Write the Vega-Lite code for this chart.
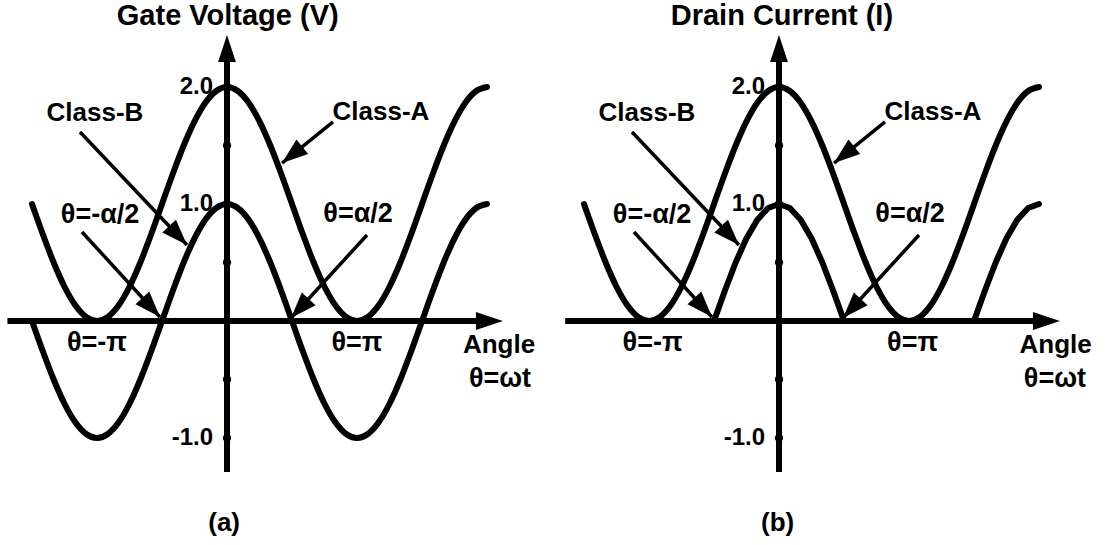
{
  "$schema": "https://vega.github.io/schema/vega-lite/v6.json",
  "background": "white",
  "padding": 0,
  "spacing": 2,
  "bounds": "flush",
  "config": {
    "view": {"stroke": null},
    "text": {"font": "Liberation Sans", "fontWeight": "bold", "color": "black"}
  },
  "datasets": {
    "wave": [
      {"deg": -270, "a": 1, "b": 0, "bi": 0},
      {"deg": -255, "a": 0.7412, "b": -0.2588, "bi": 0},
      {"deg": -240, "a": 0.5, "b": -0.5, "bi": 0},
      {"deg": -225, "a": 0.2929, "b": -0.7071, "bi": 0},
      {"deg": -210, "a": 0.134, "b": -0.866, "bi": 0},
      {"deg": -195, "a": 0.0341, "b": -0.9659, "bi": 0},
      {"deg": -180, "a": 0, "b": -1, "bi": 0},
      {"deg": -165, "a": 0.0341, "b": -0.9659, "bi": 0},
      {"deg": -150, "a": 0.134, "b": -0.866, "bi": 0},
      {"deg": -135, "a": 0.2929, "b": -0.7071, "bi": 0},
      {"deg": -120, "a": 0.5, "b": -0.5, "bi": 0},
      {"deg": -105, "a": 0.7412, "b": -0.2588, "bi": 0},
      {"deg": -90, "a": 1, "b": 0, "bi": 0},
      {"deg": -75, "a": 1.2588, "b": 0.2588, "bi": 0.2588},
      {"deg": -60, "a": 1.5, "b": 0.5, "bi": 0.5},
      {"deg": -45, "a": 1.7071, "b": 0.7071, "bi": 0.7071},
      {"deg": -30, "a": 1.866, "b": 0.866, "bi": 0.866},
      {"deg": -15, "a": 1.9659, "b": 0.9659, "bi": 0.9659},
      {"deg": 0, "a": 2, "b": 1, "bi": 1},
      {"deg": 15, "a": 1.9659, "b": 0.9659, "bi": 0.9659},
      {"deg": 30, "a": 1.866, "b": 0.866, "bi": 0.866},
      {"deg": 45, "a": 1.7071, "b": 0.7071, "bi": 0.7071},
      {"deg": 60, "a": 1.5, "b": 0.5, "bi": 0.5},
      {"deg": 75, "a": 1.2588, "b": 0.2588, "bi": 0.2588},
      {"deg": 90, "a": 1, "b": 0, "bi": 0},
      {"deg": 105, "a": 0.7412, "b": -0.2588, "bi": 0},
      {"deg": 120, "a": 0.5, "b": -0.5, "bi": 0},
      {"deg": 135, "a": 0.2929, "b": -0.7071, "bi": 0},
      {"deg": 150, "a": 0.134, "b": -0.866, "bi": 0},
      {"deg": 165, "a": 0.0341, "b": -0.9659, "bi": 0},
      {"deg": 180, "a": 0, "b": -1, "bi": 0},
      {"deg": 195, "a": 0.0341, "b": -0.9659, "bi": 0},
      {"deg": 210, "a": 0.134, "b": -0.866, "bi": 0},
      {"deg": 225, "a": 0.2929, "b": -0.7071, "bi": 0},
      {"deg": 240, "a": 0.5, "b": -0.5, "bi": 0},
      {"deg": 255, "a": 0.7412, "b": -0.2588, "bi": 0},
      {"deg": 270, "a": 1, "b": 0, "bi": 0},
      {"deg": 285, "a": 1.2588, "b": 0.2588, "bi": 0.2588},
      {"deg": 300, "a": 1.5, "b": 0.5, "bi": 0.5},
      {"deg": 315, "a": 1.7071, "b": 0.7071, "bi": 0.7071},
      {"deg": 330, "a": 1.866, "b": 0.866, "bi": 0.866},
      {"deg": 345, "a": 1.9659, "b": 0.9659, "bi": 0.9659},
      {"deg": 360, "a": 2, "b": 1, "bi": 1}
    ],
    "axes": [
      {"panel": "a", "x": -304, "y": 0, "x2": 368, "y2": 0, "tx": 382, "ty": 0, "heading": 90},
      {"panel": "a", "x": 0, "y": -1.29, "x2": 0, "y2": 2.3, "tx": 0, "ty": 2.444, "heading": 0},
      {"panel": "b", "x": -296, "y": 0, "x2": 375, "y2": 0, "tx": 389, "ty": 0, "heading": 90},
      {"panel": "b", "x": 0, "y": -1.29, "x2": 0, "y2": 2.3, "tx": 0, "ty": 2.444, "heading": 0}
    ],
    "ticks": [
      {"val": -1, "label": "-1.0"},
      {"val": -0.5, "label": ""},
      {"val": 0.5, "label": ""},
      {"val": 1, "label": "1.0"},
      {"val": 1.5, "label": ""},
      {"val": 2, "label": "2.0"}
    ],
    "pointers": [
      {"note": "Class-B", "x": -203.5, "y": 1.615, "tx": -55.4, "ty": 0.65, "heading": 136.6},
      {"note": "Class-A", "x": 146.8, "y": 1.701, "tx": 76.2, "ty": 1.35, "heading": 231.2},
      {"note": "θ=-α/2", "x": -200.8, "y": 0.761, "tx": -92.8, "ty": 0.034, "heading": 137.5},
      {"note": "θ=α/2", "x": 193.8, "y": 0.735, "tx": 88.6, "ty": 0.026, "heading": 222.9}
    ],
    "notes": [
      {"panel": "a", "kind": "title", "text": "Gate Voltage (V)", "x": 1, "y": 2.607},
      {"panel": "a", "kind": "label", "text": "Class-B", "x": -182.8, "y": 1.778},
      {"panel": "a", "kind": "label", "text": "Class-A", "x": 213.2, "y": 1.786},
      {"panel": "a", "kind": "theta", "text": "θ=-α/2", "x": -175.8, "y": 0.906},
      {"panel": "a", "kind": "theta", "text": "θ=α/2", "x": 181.4, "y": 0.915},
      {"panel": "a", "kind": "theta", "text": "θ=-π", "x": -180, "y": -0.188},
      {"panel": "a", "kind": "theta", "text": "θ=π", "x": 180, "y": -0.188},
      {"panel": "a", "kind": "label", "text": "Angle", "x": 376.6, "y": -0.205},
      {"panel": "a", "kind": "theta", "text": "θ=ωt", "x": 378, "y": -0.496},
      {"panel": "a", "kind": "label", "text": "(a)", "x": -4, "y": -1.726},
      {"panel": "b", "kind": "title", "text": "Drain Current (I)", "x": 4, "y": 2.607},
      {"panel": "b", "kind": "label", "text": "Class-B", "x": -182.8, "y": 1.778},
      {"panel": "b", "kind": "label", "text": "Class-A", "x": 213.2, "y": 1.786},
      {"panel": "b", "kind": "theta", "text": "θ=-α/2", "x": -175.8, "y": 0.906},
      {"panel": "b", "kind": "theta", "text": "θ=α/2", "x": 181.4, "y": 0.915},
      {"panel": "b", "kind": "theta", "text": "θ=-π", "x": -175, "y": -0.188},
      {"panel": "b", "kind": "theta", "text": "θ=π", "x": 185, "y": -0.188},
      {"panel": "b", "kind": "label", "text": "Angle", "x": 383, "y": -0.205},
      {"panel": "b", "kind": "theta", "text": "θ=ωt", "x": 382, "y": -0.496},
      {"panel": "b", "kind": "label", "text": "(b)", "x": -2, "y": -1.726}
    ]
  },
  "hconcat": [
    {
      "width": 550,
      "height": 545,
      "layer": [
        {
          "data": {"name": "axes"},
          "transform": [{"filter": "datum.panel == 'a'"}],
          "mark": {"type": "rule", "color": "black", "strokeWidth": 6},
          "encoding": {
            "x": {"field": "x", "type": "quantitative", "scale": {"domain": [-314.3, 447.2], "nice": false, "zero": false}, "axis": null},
            "y": {"field": "y", "type": "quantitative", "scale": {"domain": [-1.9145, 2.7436], "nice": false, "zero": false}, "axis": null},
            "x2": {"field": "x2"},
            "y2": {"field": "y2"}
          }
        },
        {
          "data": {"name": "axes"},
          "transform": [{"filter": "datum.panel == 'a'"}],
          "mark": {"type": "point", "shape": "M0,0L-0.66,2L0.66,2Z", "filled": true, "size": 729, "color": "black", "opacity": 1, "strokeWidth": 0},
          "encoding": {
            "x": {"field": "tx", "type": "quantitative", "scale": {"domain": [-314.3, 447.2], "nice": false, "zero": false}, "axis": null},
            "y": {"field": "ty", "type": "quantitative", "scale": {"domain": [-1.9145, 2.7436], "nice": false, "zero": false}, "axis": null},
            "angle": {"field": "heading", "type": "quantitative", "scale": null}
          }
        },
        {
          "data": {"name": "ticks"},
          "mark": {"type": "point", "shape": "circle", "filled": true, "size": 70, "color": "black", "opacity": 1},
          "encoding": {
            "x": {"datum": 0, "type": "quantitative", "scale": {"domain": [-314.3, 447.2], "nice": false, "zero": false}, "axis": null},
            "y": {"field": "val", "type": "quantitative", "scale": {"domain": [-1.9145, 2.7436], "nice": false, "zero": false}, "axis": null}
          }
        },
        {
          "data": {"name": "ticks"},
          "mark": {"type": "text", "align": "right", "baseline": "middle", "dx": -14, "fontSize": 24},
          "encoding": {
            "x": {"datum": 0, "type": "quantitative", "scale": {"domain": [-314.3, 447.2], "nice": false, "zero": false}, "axis": null},
            "y": {"field": "val", "type": "quantitative", "scale": {"domain": [-1.9145, 2.7436], "nice": false, "zero": false}, "axis": null},
            "text": {"field": "label", "type": "nominal"}
          }
        },
        {
          "data": {"name": "wave"},
          "mark": {"type": "line", "color": "black", "strokeWidth": 6, "interpolate": "monotone", "strokeCap": "round", "strokeJoin": "round"},
          "encoding": {
            "x": {"field": "deg", "type": "quantitative", "scale": {"domain": [-314.3, 447.2], "nice": false, "zero": false}, "axis": null},
            "y": {"field": "a", "type": "quantitative", "scale": {"domain": [-1.9145, 2.7436], "nice": false, "zero": false}, "axis": null}
          }
        },
        {
          "data": {"name": "wave"},
          "mark": {"type": "line", "color": "black", "strokeWidth": 6, "interpolate": "monotone", "strokeCap": "round", "strokeJoin": "round"},
          "encoding": {
            "x": {"field": "deg", "type": "quantitative", "scale": {"domain": [-314.3, 447.2], "nice": false, "zero": false}, "axis": null},
            "y": {"field": "b", "type": "quantitative", "scale": {"domain": [-1.9145, 2.7436], "nice": false, "zero": false}, "axis": null}
          }
        },
        {
          "data": {"name": "pointers"},
          "mark": {"type": "rule", "color": "black", "strokeWidth": 3.5},
          "encoding": {
            "x": {"field": "x", "type": "quantitative", "scale": {"domain": [-314.3, 447.2], "nice": false, "zero": false}, "axis": null},
            "y": {"field": "y", "type": "quantitative", "scale": {"domain": [-1.9145, 2.7436], "nice": false, "zero": false}, "axis": null},
            "x2": {"field": "tx"},
            "y2": {"field": "ty"}
          }
        },
        {
          "data": {"name": "pointers"},
          "mark": {"type": "point", "shape": "M0,0L-0.72,2L0.72,2Z", "filled": true, "size": 676, "color": "black", "opacity": 1, "strokeWidth": 0},
          "encoding": {
            "x": {"field": "tx", "type": "quantitative", "scale": {"domain": [-314.3, 447.2], "nice": false, "zero": false}, "axis": null},
            "y": {"field": "ty", "type": "quantitative", "scale": {"domain": [-1.9145, 2.7436], "nice": false, "zero": false}, "axis": null},
            "angle": {"field": "heading", "type": "quantitative", "scale": null}
          }
        },
        {
          "data": {"name": "notes"},
          "transform": [{"filter": "datum.panel == 'a' && datum.kind == 'title'"}],
          "mark": {"type": "text", "align": "center", "baseline": "middle", "fontSize": 29},
          "encoding": {
            "x": {"field": "x", "type": "quantitative", "scale": {"domain": [-314.3, 447.2], "nice": false, "zero": false}, "axis": null},
            "y": {"field": "y", "type": "quantitative", "scale": {"domain": [-1.9145, 2.7436], "nice": false, "zero": false}, "axis": null},
            "text": {"field": "text", "type": "nominal"}
          }
        },
        {
          "data": {"name": "notes"},
          "transform": [{"filter": "datum.panel == 'a' && datum.kind == 'label'"}],
          "mark": {"type": "text", "align": "center", "baseline": "middle", "fontSize": 26},
          "encoding": {
            "x": {"field": "x", "type": "quantitative", "scale": {"domain": [-314.3, 447.2], "nice": false, "zero": false}, "axis": null},
            "y": {"field": "y", "type": "quantitative", "scale": {"domain": [-1.9145, 2.7436], "nice": false, "zero": false}, "axis": null},
            "text": {"field": "text", "type": "nominal"}
          }
        },
        {
          "data": {"name": "notes"},
          "transform": [{"filter": "datum.panel == 'a' && datum.kind == 'theta'"}],
          "mark": {"type": "text", "align": "center", "baseline": "middle", "fontSize": 27},
          "encoding": {
            "x": {"field": "x", "type": "quantitative", "scale": {"domain": [-314.3, 447.2], "nice": false, "zero": false}, "axis": null},
            "y": {"field": "y", "type": "quantitative", "scale": {"domain": [-1.9145, 2.7436], "nice": false, "zero": false}, "axis": null},
            "text": {"field": "text", "type": "nominal"}
          }
        }
      ]
    },
    {
      "width": 550,
      "height": 545,
      "layer": [
        {
          "data": {"name": "axes"},
          "transform": [{"filter": "datum.panel == 'b'"}],
          "mark": {"type": "rule", "color": "black", "strokeWidth": 6},
          "encoding": {
            "x": {"field": "x", "type": "quantitative", "scale": {"domain": [-314.3, 447.2], "nice": false, "zero": false}, "axis": null},
            "y": {"field": "y", "type": "quantitative", "scale": {"domain": [-1.9145, 2.7436], "nice": false, "zero": false}, "axis": null},
            "x2": {"field": "x2"},
            "y2": {"field": "y2"}
          }
        },
        {
          "data": {"name": "axes"},
          "transform": [{"filter": "datum.panel == 'b'"}],
          "mark": {"type": "point", "shape": "M0,0L-0.66,2L0.66,2Z", "filled": true, "size": 729, "color": "black", "opacity": 1, "strokeWidth": 0},
          "encoding": {
            "x": {"field": "tx", "type": "quantitative", "scale": {"domain": [-314.3, 447.2], "nice": false, "zero": false}, "axis": null},
            "y": {"field": "ty", "type": "quantitative", "scale": {"domain": [-1.9145, 2.7436], "nice": false, "zero": false}, "axis": null},
            "angle": {"field": "heading", "type": "quantitative", "scale": null}
          }
        },
        {
          "data": {"name": "ticks"},
          "mark": {"type": "point", "shape": "circle", "filled": true, "size": 70, "color": "black", "opacity": 1},
          "encoding": {
            "x": {"datum": 0, "type": "quantitative", "scale": {"domain": [-314.3, 447.2], "nice": false, "zero": false}, "axis": null},
            "y": {"field": "val", "type": "quantitative", "scale": {"domain": [-1.9145, 2.7436], "nice": false, "zero": false}, "axis": null}
          }
        },
        {
          "data": {"name": "ticks"},
          "mark": {"type": "text", "align": "right", "baseline": "middle", "dx": -14, "fontSize": 24},
          "encoding": {
            "x": {"datum": 0, "type": "quantitative", "scale": {"domain": [-314.3, 447.2], "nice": false, "zero": false}, "axis": null},
            "y": {"field": "val", "type": "quantitative", "scale": {"domain": [-1.9145, 2.7436], "nice": false, "zero": false}, "axis": null},
            "text": {"field": "label", "type": "nominal"}
          }
        },
        {
          "data": {"name": "wave"},
          "mark": {"type": "line", "color": "black", "strokeWidth": 6, "interpolate": "monotone", "strokeCap": "round", "strokeJoin": "round"},
          "encoding": {
            "x": {"field": "deg", "type": "quantitative", "scale": {"domain": [-314.3, 447.2], "nice": false, "zero": false}, "axis": null},
            "y": {"field": "a", "type": "quantitative", "scale": {"domain": [-1.9145, 2.7436], "nice": false, "zero": false}, "axis": null}
          }
        },
        {
          "data": {"name": "wave"},
          "mark": {"type": "line", "color": "black", "strokeWidth": 6, "interpolate": "linear", "strokeCap": "round", "strokeJoin": "round"},
          "encoding": {
            "x": {"field": "deg", "type": "quantitative", "scale": {"domain": [-314.3, 447.2], "nice": false, "zero": false}, "axis": null},
            "y": {"field": "bi", "type": "quantitative", "scale": {"domain": [-1.9145, 2.7436], "nice": false, "zero": false}, "axis": null}
          }
        },
        {
          "data": {"name": "pointers"},
          "mark": {"type": "rule", "color": "black", "strokeWidth": 3.5},
          "encoding": {
            "x": {"field": "x", "type": "quantitative", "scale": {"domain": [-314.3, 447.2], "nice": false, "zero": false}, "axis": null},
            "y": {"field": "y", "type": "quantitative", "scale": {"domain": [-1.9145, 2.7436], "nice": false, "zero": false}, "axis": null},
            "x2": {"field": "tx"},
            "y2": {"field": "ty"}
          }
        },
        {
          "data": {"name": "pointers"},
          "mark": {"type": "point", "shape": "M0,0L-0.72,2L0.72,2Z", "filled": true, "size": 676, "color": "black", "opacity": 1, "strokeWidth": 0},
          "encoding": {
            "x": {"field": "tx", "type": "quantitative", "scale": {"domain": [-314.3, 447.2], "nice": false, "zero": false}, "axis": null},
            "y": {"field": "ty", "type": "quantitative", "scale": {"domain": [-1.9145, 2.7436], "nice": false, "zero": false}, "axis": null},
            "angle": {"field": "heading", "type": "quantitative", "scale": null}
          }
        },
        {
          "data": {"name": "notes"},
          "transform": [{"filter": "datum.panel == 'b' && datum.kind == 'title'"}],
          "mark": {"type": "text", "align": "center", "baseline": "middle", "fontSize": 29},
          "encoding": {
            "x": {"field": "x", "type": "quantitative", "scale": {"domain": [-314.3, 447.2], "nice": false, "zero": false}, "axis": null},
            "y": {"field": "y", "type": "quantitative", "scale": {"domain": [-1.9145, 2.7436], "nice": false, "zero": false}, "axis": null},
            "text": {"field": "text", "type": "nominal"}
          }
        },
        {
          "data": {"name": "notes"},
          "transform": [{"filter": "datum.panel == 'b' && datum.kind == 'label'"}],
          "mark": {"type": "text", "align": "center", "baseline": "middle", "fontSize": 26},
          "encoding": {
            "x": {"field": "x", "type": "quantitative", "scale": {"domain": [-314.3, 447.2], "nice": false, "zero": false}, "axis": null},
            "y": {"field": "y", "type": "quantitative", "scale": {"domain": [-1.9145, 2.7436], "nice": false, "zero": false}, "axis": null},
            "text": {"field": "text", "type": "nominal"}
          }
        },
        {
          "data": {"name": "notes"},
          "transform": [{"filter": "datum.panel == 'b' && datum.kind == 'theta'"}],
          "mark": {"type": "text", "align": "center", "baseline": "middle", "fontSize": 27},
          "encoding": {
            "x": {"field": "x", "type": "quantitative", "scale": {"domain": [-314.3, 447.2], "nice": false, "zero": false}, "axis": null},
            "y": {"field": "y", "type": "quantitative", "scale": {"domain": [-1.9145, 2.7436], "nice": false, "zero": false}, "axis": null},
            "text": {"field": "text", "type": "nominal"}
          }
        }
      ]
    }
  ]
}
